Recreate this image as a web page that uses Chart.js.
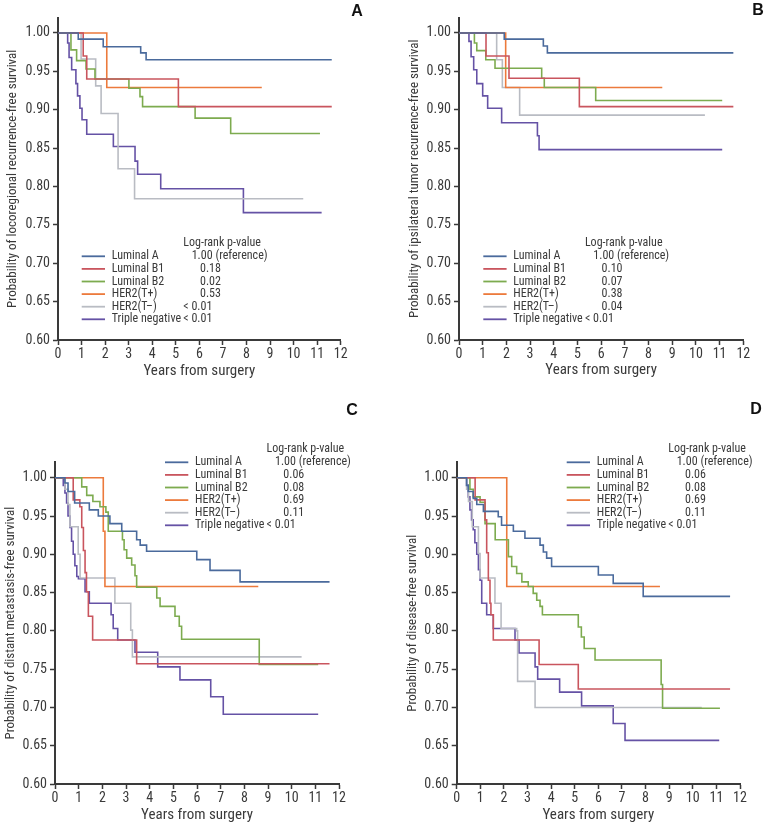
<!DOCTYPE html>
<html>
<head>
<meta charset="utf-8">
<script src="https://cdn.jsdelivr.net/npm/chart.js@4.4.1/dist/chart.umd.min.js"></script>
<style>
  html, body { margin: 0; padding: 0; background: #fff; }
  #wrap { position: relative; width: 771px; height: 826px; overflow: hidden; }
  canvas { position: absolute; }
</style>
</head>
<body>
<div id="wrap">
  <canvas id="cA" width="385" height="395" style="left:0;top:0"></canvas>
  <canvas id="cB" width="386" height="395" style="left:385px;top:0"></canvas>
  <canvas id="cC" width="385" height="431" style="left:0;top:395px"></canvas>
  <canvas id="cD" width="386" height="431" style="left:385px;top:395px"></canvas>
</div>
<script>
// subtypes and their curve colours
const groups = ['Luminal A', 'Luminal B1', 'Luminal B2', 'HER2(T+)', 'HER2(T\u2013)', 'Triple negative'];
const colors = ['#4a6a9c', '#c9555e', '#7dab4f', '#ec7a3c', '#b9bcc3', '#6552a5'];

const xTicks = [0, 1, 2, 3, 4, 5, 6, 7, 8, 9, 10, 11, 12];
const yTicks = [0.60, 0.65, 0.70, 0.75, 0.80, 0.85, 0.90, 0.95, 1.00];

// log-rank p-values per panel
const pA = ['1.00 (reference)', '0.18', '0.02', '0.53', '< 0.01', '< 0.01'];
const pB = ['1.00 (reference)', '0.10', '0.07', '0.38', '0.04', '< 0.01'];
const pC = ['1.00 (reference)', '0.06', '0.08', '0.69', '0.11', '< 0.01'];
const pD = ['1.00 (reference)', '0.06', '0.08', '0.69', '0.11', '< 0.01'];

// Kaplan-Meier steps [years, survival]
// A: locoregional recurrence-free survival
const A_lumA  = [[0,1],[0.86,0.992],[1.92,0.982],[3.51,0.974],[3.74,0.965],[11.62,0.965]];
const A_lumB1 = [[0,1],[1.07,0.97],[1.22,0.94],[5.11,0.904],[11.62,0.904]];
const A_lumB2 = [[0,1],[0.55,0.978],[0.79,0.964],[1.19,0.953],[1.57,0.94],[3.01,0.928],[3.48,0.917],[3.59,0.904],[5.82,0.889],[7.33,0.869],[11.12,0.869]];
const A_her2p = [[0,1],[2.07,0.929],[8.65,0.929]];
const A_her2n = [[0,1],[0.98,0.966],[1.6,0.931],[1.83,0.895],[2.55,0.823],[3.25,0.784],[10.41,0.784]];
const A_tn    = [[0,1],[0.41,0.987],[0.47,0.968],[0.58,0.952],[0.76,0.934],[0.83,0.918],[0.93,0.902],[1.02,0.887],[1.22,0.868],[2.35,0.852],[3.27,0.833],[3.38,0.816],[4.36,0.797],[7.87,0.766],[11.19,0.766]];

// B: ipsilateral tumor recurrence-free survival
const B_lumA  = [[0,1],[1.91,0.992],[3.56,0.983],[3.73,0.974],[11.58,0.974]];
const B_lumB1 = [[0,1],[1.14,0.97],[2.11,0.941],[5.08,0.904],[11.58,0.904]];
const B_lumB2 = [[0,1],[0.65,0.987],[0.75,0.977],[1.13,0.965],[1.52,0.954],[3.49,0.941],[3.6,0.929],[5.77,0.912],[11.11,0.912]];
const B_her2p = [[0,1],[1.97,0.929],[8.58,0.929]];
const B_her2n = [[0,1],[1.59,0.965],[1.83,0.929],[2.56,0.893],[10.38,0.893]];
const B_tn    = [[0,1],[0.42,0.989],[0.51,0.969],[0.62,0.952],[0.75,0.934],[1.0,0.918],[1.21,0.902],[1.8,0.883],[3.31,0.866],[3.38,0.848],[11.11,0.848]];

// C: distant metastasis-free survival
const C_lumA  = [[0,1],[0.42,0.993],[0.55,0.982],[0.83,0.967],[1.45,0.958],[1.83,0.95],[2.32,0.94],[2.82,0.93],[3.45,0.919],[3.6,0.912],[3.87,0.904],[5.99,0.893],[6.55,0.879],[7.82,0.864],[11.6,0.864]];
const C_lumB1 = [[0,1],[0.77,0.971],[1.05,0.962],[1.13,0.935],[1.2,0.905],[1.27,0.876],[1.33,0.851],[1.41,0.819],[1.59,0.788],[3.45,0.757],[11.6,0.757]];
const C_lumB2 = [[0,1],[1.13,0.988],[1.34,0.977],[1.6,0.969],[1.9,0.962],[2.15,0.955],[2.25,0.93],[2.85,0.919],[2.92,0.906],[3.03,0.895],[3.24,0.886],[3.38,0.872],[3.45,0.857],[4.3,0.843],[4.44,0.832],[5.07,0.819],[5.25,0.806],[5.35,0.789],[8.63,0.756],[11.12,0.756]];
const C_her2p = [[0,1],[2.04,0.93],[2.11,0.858],[8.59,0.858]];
const C_her2n = [[0,1],[0.42,0.985],[0.55,0.965],[0.63,0.936],[0.98,0.9],[1.06,0.869],[2.53,0.836],[3.2,0.801],[3.27,0.766],[10.42,0.766]];
const C_tn    = [[0,1],[0.35,0.99],[0.42,0.98],[0.49,0.967],[0.55,0.95],[0.63,0.935],[0.7,0.917],[0.77,0.9],[0.84,0.885],[0.92,0.871],[0.99,0.868],[1.27,0.851],[1.45,0.836],[2.37,0.821],[2.46,0.803],[2.65,0.788],[3.38,0.772],[4.34,0.753],[5.28,0.736],[6.58,0.714],[7.11,0.691],[11.12,0.691]];

// D: disease-free survival
const D_lumA  = [[0,1],[0.42,0.99],[0.49,0.982],[0.7,0.973],[0.85,0.965],[1.13,0.956],[1.76,0.949],[1.9,0.938],[2.4,0.93],[2.89,0.921],[3.53,0.912],[3.67,0.903],[3.81,0.895],[4.02,0.884],[6.0,0.873],[6.63,0.862],[7.9,0.845],[11.58,0.845]];
const D_lumB1 = [[0,1],[0.78,0.971],[1.2,0.945],[1.27,0.902],[1.34,0.866],[1.41,0.836],[1.45,0.821],[1.55,0.788],[3.49,0.756],[5.15,0.724],[11.58,0.724]];
const D_lumB2 = [[0,1],[0.56,0.985],[0.7,0.975],[0.99,0.968],[1.2,0.94],[1.63,0.919],[2.19,0.897],[2.33,0.884],[2.54,0.875],[2.76,0.864],[3.03,0.858],[3.24,0.849],[3.39,0.84],[3.53,0.832],[3.63,0.821],[5.15,0.805],[5.28,0.792],[5.4,0.777],[5.86,0.762],[8.66,0.73],[8.72,0.699],[11.15,0.699]];
const D_her2p = [[0,1],[2.12,0.858],[8.61,0.858]];
const D_her2n = [[0,1],[0.42,0.985],[0.5,0.969],[0.66,0.936],[0.92,0.901],[0.99,0.869],[1.62,0.836],[1.88,0.803],[2.54,0.8],[2.58,0.734],[3.32,0.7],[10.38,0.7]];
const D_tn    = [[0,1],[0.42,0.99],[0.49,0.975],[0.56,0.958],[0.63,0.945],[0.7,0.932],[0.77,0.915],[0.85,0.9],[0.92,0.88],[0.99,0.866],[1.06,0.836],[1.27,0.821],[1.55,0.803],[2.47,0.788],[2.64,0.771],[3.32,0.753],[3.43,0.737],[4.36,0.72],[5.29,0.702],[6.63,0.679],[7.13,0.657],[11.12,0.657]];

const FONT = "'Liberation Sans Narrow', 'Roboto Condensed', 'DejaVu Sans Condensed', Roboto, sans-serif";
const INK = '#3a3a3a';
Chart.defaults.font.family = FONT;
Chart.defaults.color = INK;

// draws the "Log-rank p-value" legend and the panel letter
const kmLegend = {
    id: 'kmLegend',
    afterDraw(chart, args, opts) {
        const ctx = chart.ctx;
        const x0 = chart.chartArea.left + opts.dx;
        const colP = x0 + 101.6;
        ctx.save();
        ctx.textBaseline = 'middle';
        ctx.textAlign = 'left';
        ctx.font = '12px ' + FONT;
        ctx.fillStyle = INK;
        ctx.fillText('Log-rank p-value', colP, opts.top - 13);
        groups.forEach((g, i) => {
            const y = opts.top + i * 12.6;
            ctx.strokeStyle = colors[i];
            ctx.lineWidth = 1.8;
            ctx.beginPath();
            ctx.moveTo(x0, y);
            ctx.lineTo(x0 + 23.3, y);
            ctx.stroke();
            ctx.fillStyle = INK;
            ctx.fillText(g, x0 + 30, y);
            const p = opts.pvals[i];
            const off = p.startsWith('<') ? 0 : (p.indexOf('ref') > 0 ? 8.4 : 16.7);
            ctx.fillText(p, colP + off, y);
        });
        // panel letter
        ctx.font = "bold 16px 'Liberation Sans', Arial, sans-serif";
        ctx.fillStyle = '#111';
        ctx.textAlign = 'center';
        ctx.fillText(opts.letter, opts.lx, opts.ly);
        ctx.restore();
    }
};

function makePanel(canvasId, series, pvals, yTitle, box) {
    const W = box.w, H = box.h;
    const padL = box.yTitleX - 7.8;
    const scaleBottom = box.xTitleY + 8.4;
    const yWidth = box.l - padL;
    const xHeight = scaleBottom - box.b;

    const datasets = series.map((s, i) => ({
        label: groups[i],
        data: s.map(p => ({ x: p[0], y: p[1] })),
        borderColor: colors[i],
        borderWidth: 1.6,
        pointRadius: 0,
        stepped: 'before',
        fill: false
    }));

    new Chart(document.getElementById(canvasId), {
        type: 'line',
        data: { datasets: datasets },
        options: {
            responsive: false,
            animation: false,
            layout: {
                padding: { left: padL, right: W - box.r, top: box.t, bottom: H - scaleBottom }
            },
            plugins: {
                legend: { display: false },
                tooltip: { enabled: false },
                kmLegend: { pvals: pvals, dx: box.legDx, top: box.legTop, letter: box.letter, lx: box.lx, ly: box.ly }
            },
            scales: {
                x: {
                    type: 'linear',
                    min: 0,
                    max: 12,
                    afterFit: s => { s.height = xHeight; },
                    afterBuildTicks: s => { s.ticks = xTicks.map(v => ({ value: v })); },
                    grid: { drawOnChartArea: false, drawTicks: true, tickLength: 5, color: INK, tickWidth: 1.5 },
                    border: { display: true, color: INK, width: 2 },
                    ticks: { padding: 1, font: { size: 14 }, color: INK, maxRotation: 0 },
                    title: { display: true, text: 'Years from surgery', font: { size: 15 }, color: INK, padding: { top: 0, bottom: 0 } }
                },
                y: {
                    type: 'linear',
                    min: 0.6,
                    max: 1.02,
                    afterFit: s => { s.width = yWidth; },
                    afterBuildTicks: s => { s.ticks = yTicks.map(v => ({ value: v })); },
                    grid: { drawOnChartArea: false, drawTicks: true, tickLength: 5, color: INK, tickWidth: 1.5 },
                    border: { display: true, color: INK, width: 2 },
                    ticks: { padding: 3, font: { size: 14 }, color: INK, callback: v => v.toFixed(2) },
                    title: { display: true, text: yTitle, font: { size: 13 }, color: INK, padding: { top: 0, bottom: 0 } }
                }
            }
        },
        plugins: [kmLegend]
    });
}

makePanel('cA', [A_lumA, A_lumB1, A_lumB2, A_her2p, A_her2n, A_tn], pA,
    'Probability of locoregional recurrence-free survival',
    { w: 385, h: 395, l: 58, r: 340.7, t: 17.6, b: 340, yTitleX: 13, xTitleY: 372,
      legDx: 23.7, legTop: 256.3, letter: 'A', lx: 357, ly: 12 });

makePanel('cB', [B_lumA, B_lumB1, B_lumB2, B_her2p, B_her2n, B_tn], pB,
    'Probability of ipsilateral tumor recurrence-free survival',
    { w: 386, h: 395, l: 74, r: 358.3, t: 17.6, b: 340, yTitleX: 30, xTitleY: 371,
      legDx: 24.3, legTop: 256.3, letter: 'B', lx: 373, ly: 11 });

makePanel('cC', [C_lumA, C_lumB1, C_lumB2, C_her2p, C_her2n, C_tn], pC,
    'Probability of distant metastasis-free survival',
    { w: 385, h: 431, l: 55, r: 339, t: 67.4, b: 389, yTitleX: 10.5, xTitleY: 421,
      legDx: 110, legTop: 67.3, letter: 'C', lx: 352, ly: 16 });

makePanel('cD', [D_lumA, D_lumB1, D_lumB2, D_her2p, D_her2n, D_tn], pD,
    'Probability of disease-free survival',
    { w: 386, h: 431, l: 71.7, r: 355, t: 67.4, b: 389, yTitleX: 27.5, xTitleY: 421,
      legDx: 110, legTop: 67.3, letter: 'D', lx: 371, ly: 15 });
</script>
</body>
</html>
